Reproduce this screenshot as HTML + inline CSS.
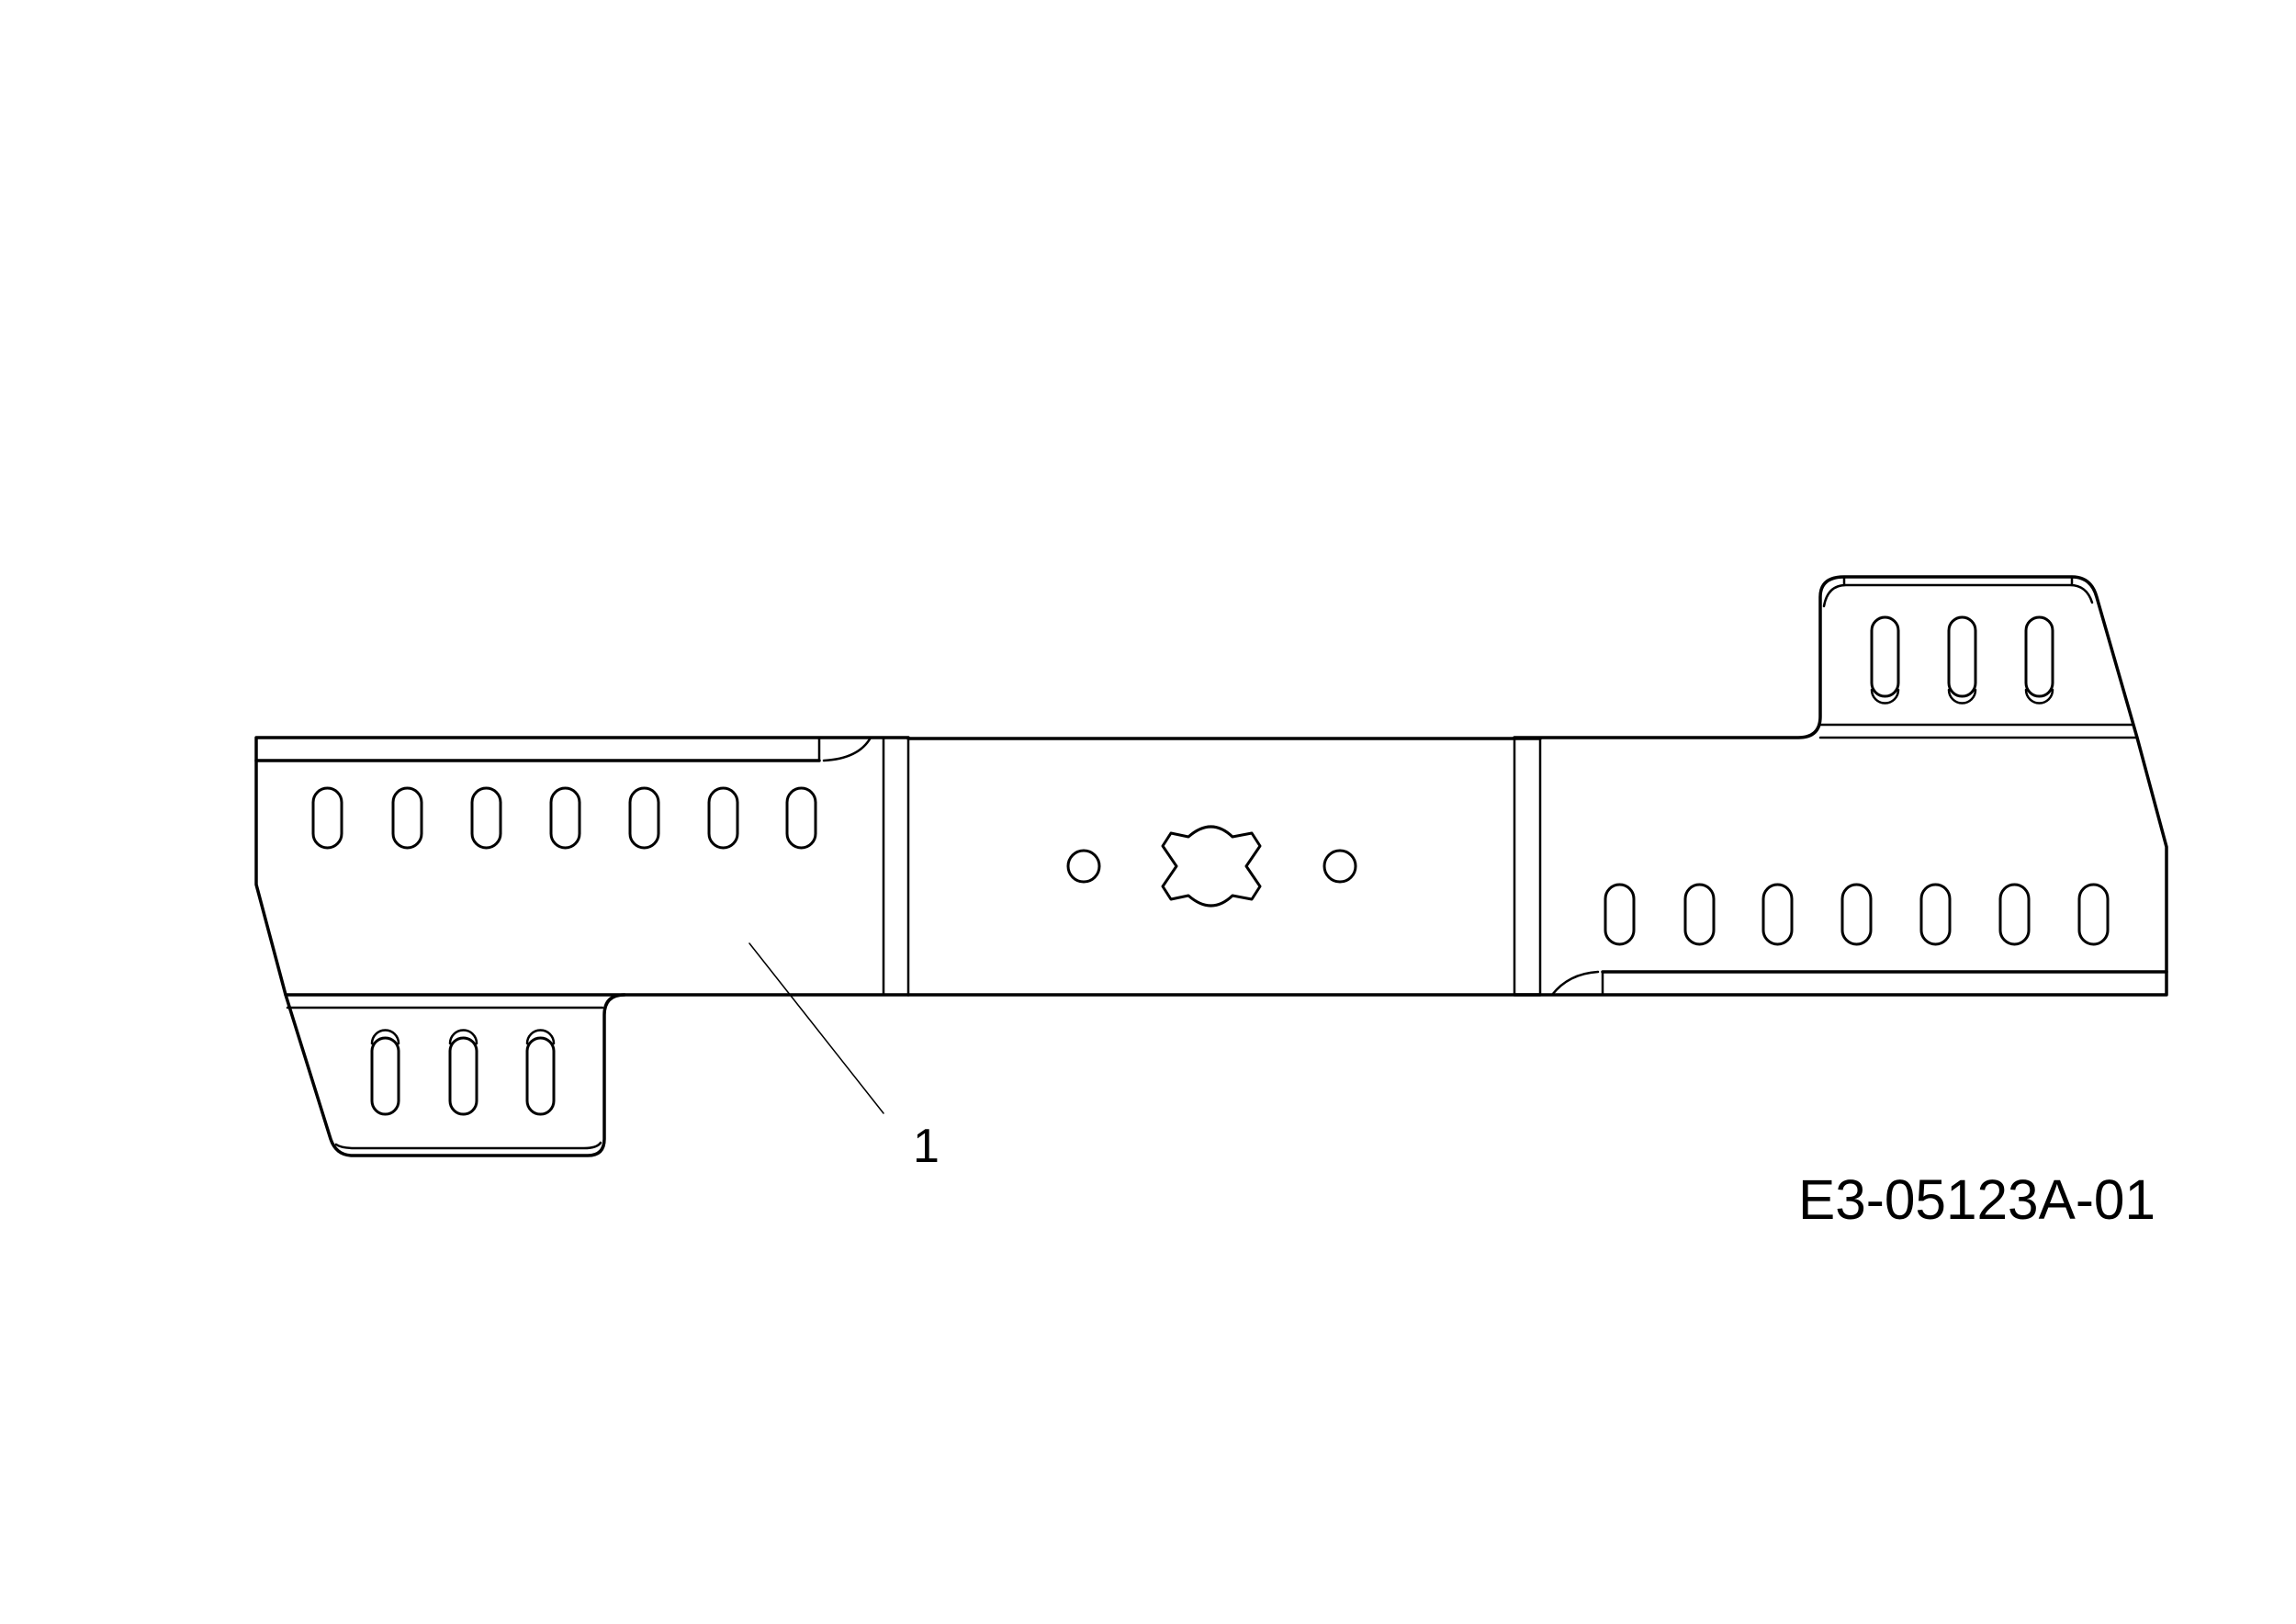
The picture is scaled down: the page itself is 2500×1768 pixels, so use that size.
<!DOCTYPE html>
<html><head><meta charset="utf-8"><style>html,body{margin:0;padding:0;background:#fff}svg{display:block}</style></head>
<body>
<svg width="2500" height="1768" viewBox="0 0 2500 1768" xmlns="http://www.w3.org/2000/svg">
<g fill="none" stroke="#000" stroke-linejoin="round" stroke-linecap="round">
<!-- left section -->
<g stroke-width="3.5">
<path d="M989,803 L279,803 L279,963 L311,1083 L989,1083"/>
<path d="M311,1083 L360,1240 Q366,1258 384,1258 L640,1258 Q658,1258 658,1240 L658,1105 Q658,1083 680,1083"/>
<line x1="279" y1="828" x2="892" y2="828"/>
</g>
<g stroke-width="2.5">
<path d="M892,803 L892,828 M897,828 Q935,826 948,803"/>
<line x1="962" y1="803" x2="962" y2="1083"/>
<line x1="989" y1="803" x2="989" y2="1083"/>
<line x1="313" y1="1097" x2="656" y2="1097"/>
<path d="M366,1246 Q372,1250 386,1250 L636,1250 Q650,1250 654,1244"/>
</g>
<!-- left slots -->
<g stroke-width="3">
<rect x="341" y="858" width="31" height="65" rx="15.5"/>
<rect x="428" y="858" width="31" height="65" rx="15.5"/>
<rect x="514" y="858" width="31" height="65" rx="15.5"/>
<rect x="600" y="858" width="31" height="65" rx="15.5"/>
<rect x="686" y="858" width="31" height="65" rx="15.5"/>
<rect x="772" y="858" width="31" height="65" rx="15.5"/>
<rect x="857" y="858" width="31" height="65" rx="15.5"/>
<rect x="405" y="1130" width="29" height="83" rx="14.5"/>
<rect x="490" y="1130" width="29" height="83" rx="14.5"/>
<rect x="574" y="1130" width="29" height="83" rx="14.5"/>
<path d="M405,1136 A14.5,14.5 0 0 1 434,1136 M490,1136 A14.5,14.5 0 0 1 519,1136 M574,1136 A14.5,14.5 0 0 1 603,1136" stroke-width="2.5"/>
</g>
<!-- middle -->
<g stroke-width="3.5">
<line x1="989" y1="804" x2="1677" y2="804"/>
<line x1="989" y1="1083" x2="1677" y2="1083"/>
</g>
<g stroke-width="2.5">
<line x1="1649" y1="803" x2="1649" y2="1083"/>
<line x1="1677" y1="803" x2="1677" y2="1083"/>
</g>
<g stroke-width="3">
<circle cx="1180" cy="943" r="17"/>
<circle cx="1459" cy="943" r="17"/>
<path d="M1294,911 Q1319,889 1342,911 L1363,907 L1372,921 L1357,943 L1372,965 L1363,979 L1342,975 Q1319,997 1294,975 L1275,979 L1266,965 L1281,943 L1266,921 L1275,907 Z"/>
</g>
<!-- right section -->
<g stroke-width="3.5">
<path d="M1649,803 L1958,803 Q1982,803 1982,780 L1982,650 Q1982,628 2008,628 L2256,628 Q2277,628 2283,650 L2327,803 L2359,922 L2359,1083 L1649,1083"/>
<line x1="1745" y1="1058" x2="2359" y2="1058"/>
</g>
<g stroke-width="2.5">
<line x1="1982" y1="803" x2="2327" y2="803"/>
<line x1="1982" y1="789" x2="2323" y2="789"/>
<path d="M2008,628 L2008,637 M2256,628 L2256,637 M1986,660 Q1990,637 2010,637 L2254,637 Q2272,637 2278,656"/>
<path d="M1745,1058 L1745,1083 M1690,1083 Q1708,1060 1740,1058"/>
</g>
<g stroke-width="3">
<rect x="1748" y="963" width="31" height="65" rx="15.5"/>
<rect x="1835" y="963" width="31" height="65" rx="15.5"/>
<rect x="1920" y="963" width="31" height="65" rx="15.5"/>
<rect x="2006" y="963" width="31" height="65" rx="15.5"/>
<rect x="2092" y="963" width="31" height="65" rx="15.5"/>
<rect x="2178" y="963" width="31" height="65" rx="15.5"/>
<rect x="2264" y="963" width="31" height="65" rx="15.5"/>
<rect x="2038" y="672" width="29" height="86" rx="14.5"/>
<rect x="2122" y="672" width="29" height="86" rx="14.5"/>
<rect x="2206" y="672" width="29" height="86" rx="14.5"/>
<path d="M2038,751 A14.5,14.5 0 0 0 2067,751 M2122,751 A14.5,14.5 0 0 0 2151,751 M2206,751 A14.5,14.5 0 0 0 2235,751" stroke-width="2.5"/>
</g>
<!-- leader -->
<line x1="816" y1="1027" x2="962" y2="1212" stroke-width="1.5"/>
</g>
<g font-family="Liberation Sans, Arial, sans-serif" fill="#000">
<text x="994" y="1265" font-size="52">1</text>
<text x="1958" y="1327" font-size="61" textLength="389" lengthAdjust="spacingAndGlyphs">E3-05123A-01</text>
</g>
</svg>
</body></html>
